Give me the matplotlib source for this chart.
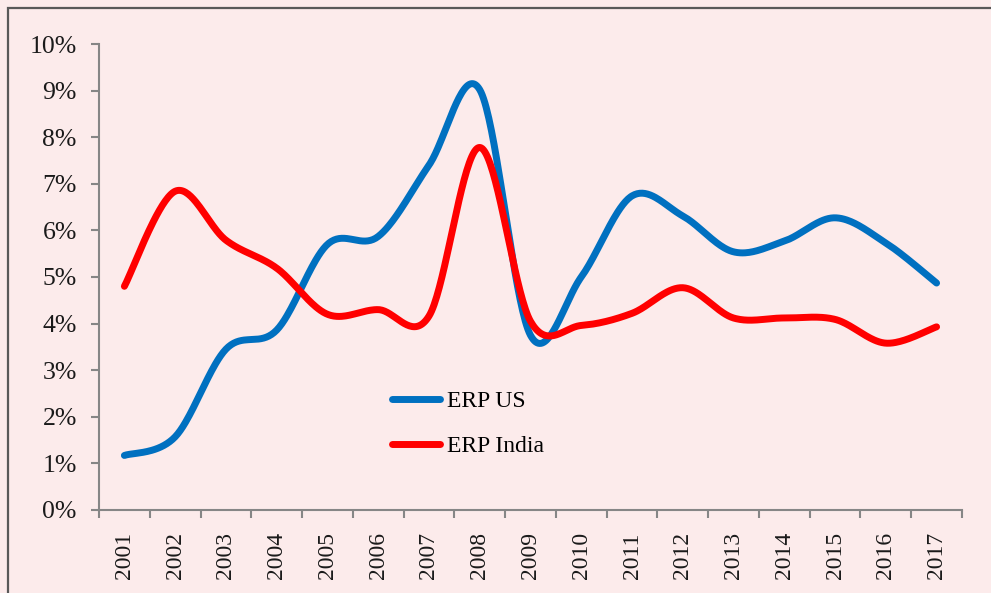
#!/usr/bin/env python3
import numpy as np
import matplotlib
matplotlib.use("Agg")
import matplotlib.pyplot as plt
from matplotlib.patches import Rectangle
from matplotlib.ticker import FuncFormatter

# Equity risk premium, % per year
years = ["2001", "2002", "2003", "2004", "2005", "2006", "2007", "2008", "2009",
         "2010", "2011", "2012", "2013", "2014", "2015", "2016", "2017"]
erp_us = [1.17, 1.57, 3.45, 3.86, 5.70, 5.87, 7.40, 9.02, 3.75,
          5.00, 6.74, 6.31, 5.54, 5.77, 6.27, 5.73, 4.87]
erp_india = [4.80, 6.84, 5.79, 5.19, 4.20, 4.30, 4.16, 7.78, 4.05,
             3.96, 4.22, 4.77, 4.12, 4.12, 4.09, 3.58, 3.93]


# Smoothed line through the points (cubic bezier, catmull-rom control points)
def smooth(xs, ys, n=40):
    p = np.column_stack([xs, ys]).astype(float)
    ext = np.vstack([p[0], p, p[-1]])
    out = []
    t = np.linspace(0, 1, n)[:, None]
    for i in range(len(p) - 1):
        p0, p1, p2, p3 = ext[i], ext[i + 1], ext[i + 2], ext[i + 3]
        c1 = p1 + (p2 - p0) / 6.0
        c2 = p2 - (p3 - p1) / 6.0
        seg = ((1 - t) ** 3) * p1 + 3 * ((1 - t) ** 2) * t * c1 \
            + 3 * (1 - t) * t ** 2 * c2 + t ** 3 * p2
        out.append(seg if i == 0 else seg[1:])
    seg = np.vstack(out)
    return seg[:, 0], seg[:, 1]


plt.rcParams['font.family'] = ['Liberation Serif', 'DejaVu Serif']

bg = "#fcebeb"
axis_col = "#868686"

fig = plt.figure(figsize=(9.91, 5.93), dpi=100, facecolor=bg)
ax = fig.add_axes([0.0999, 0.1400, 0.8708, 0.7858])
ax.set_facecolor(bg)

x = np.arange(len(years))
xs, ys = smooth(x, erp_us)
ax.plot(xs, ys, color="#0070c0", lw=5, solid_capstyle="round", label="ERP US")
xs, ys = smooth(x, erp_india)
ax.plot(xs, ys, color="#ff0000", lw=5, solid_capstyle="round", label="ERP India")

ax.set_xlim(-0.5, len(years) - 0.5)
ax.set_ylim(0, 10)

ax.set_yticks(np.arange(0, 11, 1))
ax.yaxis.set_major_formatter(FuncFormatter(lambda v, _: "%d%%" % v))
ax.tick_params(axis="y", length=6, width=1.5, color=axis_col, pad=10,
               labelsize=18.5, labelcolor="#1a1a1a")

ax.set_xticks(x)
ax.set_xticklabels(years, rotation=90)
ax.set_xticks(np.arange(-0.5, len(years), 1), minor=True)
ax.tick_params(axis="x", which="major", length=0, pad=16, labelsize=17,
               labelcolor="#1a1a1a")
ax.tick_params(axis="x", which="minor", length=6, width=1.5, color=axis_col)

for s in ("top", "right"):
    ax.spines[s].set_visible(False)
for s in ("left", "bottom"):
    ax.spines[s].set_color(axis_col)
    ax.spines[s].set_linewidth(1.5)

ax.legend(loc="center left", bbox_to_anchor=(0.34, 0.185), frameon=False,
          fontsize=17, handlelength=2.0, handletextpad=0.3,
          labelspacing=1.0, borderpad=0, borderaxespad=0)

# outer frame
fig.patches.append(Rectangle((7.5 / 991, -0.05), 1.1, 1 - 7.5 / 593 + 0.05,
                             transform=fig.transFigure, fill=False,
                             edgecolor="#595959", lw=1.6, clip_on=False))

fig.savefig("out.png", dpi=100, facecolor=bg)
